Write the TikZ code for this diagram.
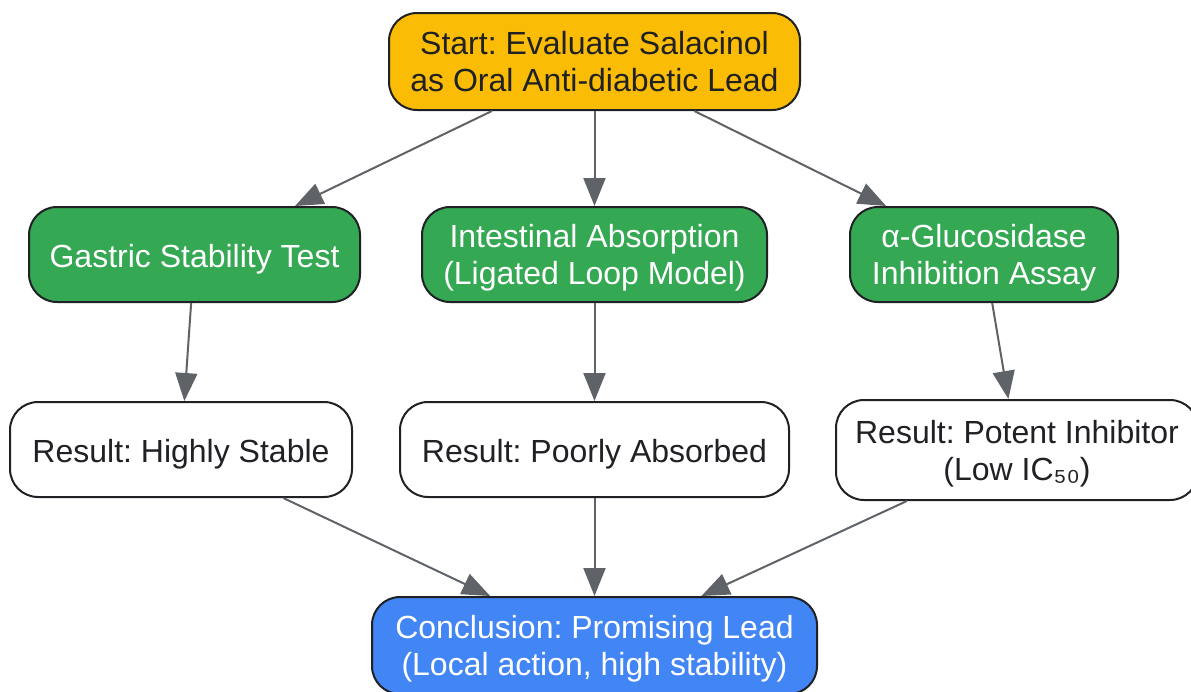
\documentclass[tikz,border=0pt]{standalone}
\usepackage{fontspec}
\setmainfont{Liberation Sans}
\usepackage{tikz}
\usetikzlibrary{arrows.meta}
\definecolor{startyellow}{HTML}{FBBC05}
\definecolor{testgreen}{HTML}{34A853}
\definecolor{endblue}{HTML}{4285F4}
\definecolor{edgegray}{HTML}{5F6368}
\definecolor{darktext}{HTML}{202124}
\frenchspacing

\begin{document}
\begin{tikzpicture}[x=0.5pt, y=-0.5pt,
        box/.style={draw=darktext, line width=1pt, rounded corners=14pt, align=center,
            font=\fontsize{16}{18.5}\selectfont, minimum height=47.5pt, inner sep=0pt,
            text height=13pt, text depth=0pt},
        twolines/.style={text height=32pt, text depth=1.6pt},
        startbox/.style={box, twolines, fill=startyellow, text=darktext},
        testbox/.style={box, fill=testgreen, text=white},
        resultbox/.style={box, fill=white, text=darktext},
        endbox/.style={box, twolines, fill=endblue, text=white},
        flow/.style={draw=edgegray, line width=1pt, -{Triangle[length=14pt, width=11pt]}}]
        \useasboundingbox (0,0) rectangle (1191,692);
        % Nodes
        \node[startbox, minimum width=205.5pt, minimum height=48.5pt] (start) at (594.5, 61.5) {Start: Evaluate Salacinol\\as Oral Anti-diabetic Lead};
        \node[testbox, minimum width=165.5pt] (gastric) at (194.5, 254.5) {Gastric Stability Test};
        \node[testbox, twolines, minimum width=172.5pt] (intestinal) at (594.5, 254.5) {Intestinal Absorption\\(Ligated Loop Model)};
        \node[testbox, twolines, minimum width=134pt] (glucosidase) at (984, 254.5) {α-Glucosidase\\Inhibition Assay};
        \node[resultbox, minimum width=171pt] (stable) at (181, 449.5) {Result: Highly Stable};
        \node[resultbox, minimum width=194.5pt] (absorbed) at (594.5, 449.5) {Result: Poorly Absorbed};
        \node[resultbox, twolines, minimum width=181pt, minimum height=50pt] (inhibitor) at (1017, 450) {Result: Potent Inhibitor\\(Low IC₅₀)};
        \node[endbox, minimum width=222.5pt, minimum height=48.5pt] (conclusion) at (594.5, 645.5) {Conclusion: Promising Lead\\(Local action, high stability)};

        % Arrows
        \draw[flow] (start) -- (gastric);
        \draw[flow] (start) -- (intestinal);
        \draw[flow] (start) -- (glucosidase);
        \draw[flow] (gastric) -- (stable);
        \draw[flow] (intestinal) -- (absorbed);
        \draw[flow] (glucosidase) -- (inhibitor);
        \draw[flow] (stable) -- (conclusion);
        \draw[flow] (absorbed) -- (conclusion);
        \draw[flow] (inhibitor) -- (conclusion);
    \end{tikzpicture}
\end{document}
